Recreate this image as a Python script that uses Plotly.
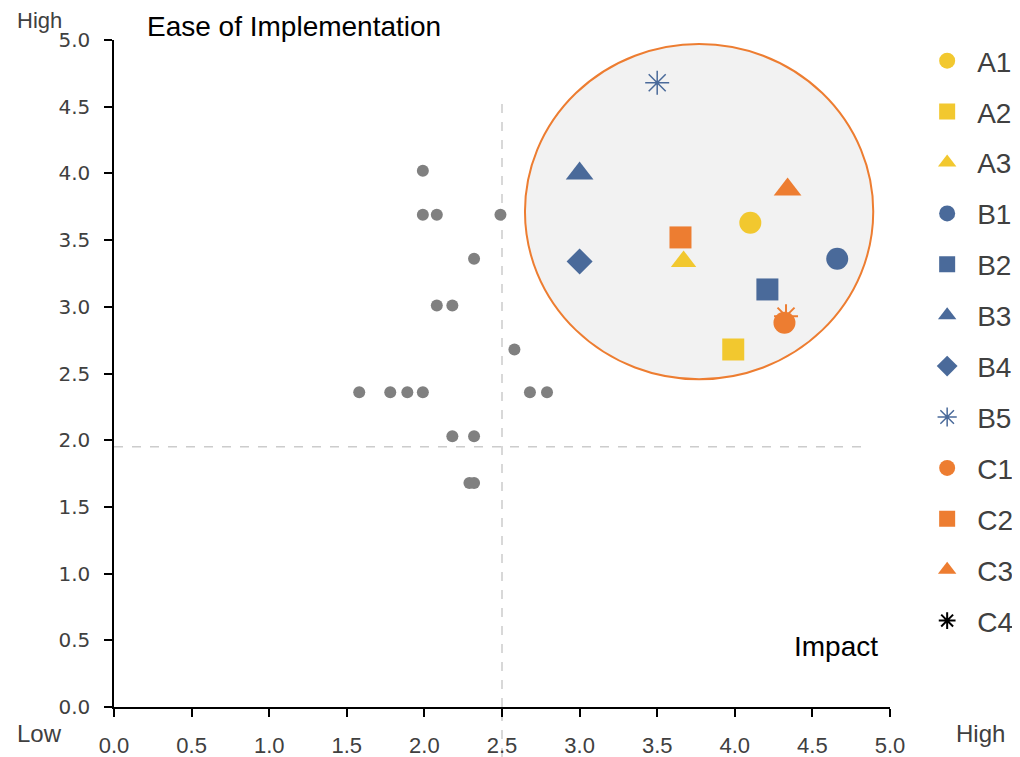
import plotly.graph_objects as go

YELLOW = "#F2C82F"
BLUE = "#4A6A9A"
ORANGE = "#ED7D31"
GRAY = "#808080"
FONT = "Liberation Sans"

# gray background points
gray_x = [1.99, 1.99, 2.08, 2.49, 2.32, 2.08, 2.18, 2.58, 1.58, 1.78, 1.89, 1.99,
          2.68, 2.79, 2.18, 2.32, 2.29, 2.32]
gray_y = [4.02, 3.69, 3.69, 3.69, 3.36, 3.01, 3.01, 2.68, 2.36, 2.36, 2.36, 2.36,
          2.36, 2.36, 2.03, 2.03, 1.68, 1.68]

# labelled items
names = ["A1", "A2", "A3", "B1", "B2", "B3", "B4", "B5", "C1", "C2", "C3", "C4"]
item_x = [4.10, 3.99, 3.67, 4.66, 4.21, 3.00, 3.00, 3.50, 4.32, 3.65, 4.34, 4.33]
item_y = [3.63, 2.68, 3.34, 3.36, 3.13, 4.00, 3.34, 4.68, 2.88, 3.52, 3.88, 2.93]
symbols = ["circle", "square", "triangle-up", "circle", "square", "triangle-up",
           "diamond", "asterisk", "circle", "square", "triangle-up", "asterisk"]
colors = [YELLOW, YELLOW, YELLOW, BLUE, BLUE, BLUE, BLUE, BLUE,
          ORANGE, ORANGE, ORANGE, ORANGE]
sizes = [22, 22, 22, 22, 22, 24, 20, 20, 22, 22, 24, 20]

fig = go.Figure()

# highlight circle
fig.add_shape(type="circle", xref="x", yref="y", x0=2.648, x1=4.892, y0=2.457, y1=4.97,
              fillcolor="#F2F2F2", line=dict(color=ORANGE, width=2), layer="below")

# quadrant guides
guide = dict(color="#CCCCCC", width=1.5, dash="dash")
fig.add_shape(type="line", xref="x", yref="y", x0=2.5, x1=2.5, y0=0, y1=4.54,
              line=guide, layer="below")
fig.add_shape(type="line", xref="x", yref="paper", x0=2.5, x1=2.5, y0=-0.075, y1=0,
              line=guide, layer="below")
fig.add_shape(type="line", xref="x", yref="y", x0=0, x1=4.84, y0=1.95, y1=1.95,
              line=guide, layer="below")

fig.add_trace(go.Scatter(x=gray_x, y=gray_y, mode="markers", showlegend=False,
                         marker=dict(color=GRAY, size=12), hoverinfo="skip"))

# C4 sits underneath C1 on the chart
i4 = names.index("C4")
fig.add_trace(go.Scatter(x=[item_x[i4]], y=[item_y[i4]], mode="markers", showlegend=False,
                         marker=dict(symbol="asterisk", size=sizes[i4],
                                     line=dict(color=ORANGE, width=2))))

for i, n in enumerate(names):
    sym = symbols[i]
    if n == "C4":
        # legend-only entry drawn in black
        fig.add_trace(go.Scatter(x=[None], y=[None], mode="markers", name=n, legendgroup=n,
                                 marker=dict(symbol=sym, size=14, color="#000000",
                                             line=dict(color="#000000", width=2))))
        continue
    if sym == "asterisk":
        marker = dict(symbol=sym, size=sizes[i], color=colors[i],
                      line=dict(color=colors[i], width=1.5))
    else:
        marker = dict(symbol=sym, size=sizes[i], color=colors[i], line=dict(width=0))
    fig.add_trace(go.Scatter(x=[item_x[i]], y=[item_y[i]], mode="markers", name=n,
                             legendgroup=n, marker=marker))

axis_common = dict(range=[0, 5], dtick=0.5, tickformat=".1f", showgrid=False,
                   zeroline=False, showline=True, linecolor="#000000", linewidth=1.5,
                   ticks="outside", ticklen=8, tickcolor="#000000", tickwidth=1.5,
                   automargin=False)

fig.update_xaxes(**axis_common, ticklabelstandoff=10,
                 tickfont=dict(family=FONT, size=22, color="#404040"))
fig.update_yaxes(**axis_common, ticklabelstandoff=10,
                 tickfont=dict(family="DejaVu Sans", size=20, color="#404040"))

fig.add_annotation(text="Ease of Implementation", xref="paper", yref="paper",
                   x=0.04, y=1.02, xanchor="left", yanchor="middle", showarrow=False,
                   font=dict(family=FONT, size=28, color="#000000"))
fig.add_annotation(text="Impact", xref="paper", yref="paper", x=0.987, y=0.091,
                   xanchor="right", yanchor="middle", showarrow=False,
                   font=dict(family=FONT, size=28, color="#000000"))
fig.add_annotation(text="High", xref="paper", yref="paper", x=-0.127, y=1.0285,
                   xanchor="left", yanchor="middle", showarrow=False,
                   font=dict(family=FONT, size=22, color="#404040"))
fig.add_annotation(text="Low", xref="paper", yref="paper", x=-0.128, y=-0.039,
                   xanchor="left", yanchor="middle", showarrow=False,
                   font=dict(family=FONT, size=24, color="#404040"))
fig.add_annotation(text="High", xref="paper", yref="paper", x=1.083, y=-0.039,
                   xanchor="left", yanchor="middle", showarrow=False,
                   font=dict(family=FONT, size=24, color="#404040"))

fig.update_layout(
    width=1012, height=749,
    margin=dict(l=106, r=130, t=32, b=50, autoexpand=False),
    plot_bgcolor="white", paper_bgcolor="white",
    legend=dict(x=1.035, y=1.006, xanchor="left", yanchor="top",
                font=dict(family=FONT, size=28, color="#404040"),
                tracegroupgap=11.5, itemwidth=50, maxheight=1.0),
)

fig.write_html("out.html")
